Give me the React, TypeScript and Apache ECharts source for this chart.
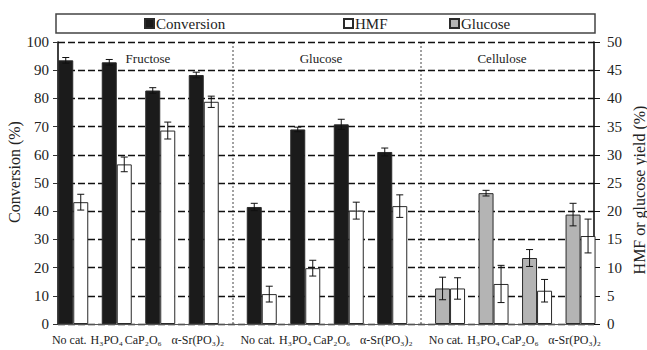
import React, { useEffect, useRef } from "react";
import * as echarts from "echarts";

// ---------- data ----------
const groupTitles = ["Fructose", "Glucose", "Cellulose"];
const catalysts = ["No cat.", "H₃PO₄", "CaP₂O₆", "α-Sr(PO₃)₂"];

// Fructose substrate
const fructoseConversion = [93.5, 92.8, 82.8, 88.3];
const fructoseConversionErr = [1.0, 1.0, 1.0, 1.0];
const fructoseHMF = [21.6, 28.3, 34.3, 39.4];
const fructoseHMFErr = [1.4, 1.3, 1.5, 1.0];

// Glucose substrate
const glucoseConversion = [41.5, 69.0, 70.8, 61.0];
const glucoseConversionErr = [1.3, 0.8, 1.8, 1.4];
const glucoseHMF = [5.3, 9.9, 20.1, 20.9];
const glucoseHMFErr = [1.4, 1.4, 1.5, 2.0];

// Cellulose substrate
const celluloseGlucose = [6.3, 23.2, 11.7, 19.4];
const celluloseGlucoseErr = [2.0, 0.5, 1.5, 2.0];
const celluloseHMF = [6.3, 7.1, 5.9, 15.6];
const celluloseHMFErr = [1.9, 3.3, 2.0, 3.0];

// axis ranges
const leftAxis = { min: 0, max: 100, interval: 10 };
const rightAxis = { min: 0, max: 50, interval: 5 };

// ---------- styles ----------
const FONT = "Liberation Serif";
const TXT = "#222";
const BLACK = "#1b1b1b";
const GRAY = "#b4b4b4";
const BAR_W = 15;

const PLOT_TOP = 42;
const PLOT_H = 282;
const groupLefts = [51.5, 240, 428.3];
const GROUP_W = 174;
const labelShift = [8, 20, 34, 12];

function errorSeries(
  name: string,
  xAxisIndex: number,
  yAxisIndex: number,
  values: number[],
  errs: number[],
  offset: number
) {
  return {
    type: "custom",
    name: name + "-err",
    xAxisIndex,
    yAxisIndex,
    z: 10,
    silent: true,
    encode: { x: 0, y: 1 },
    data: values.map((v, i) => [i, v, errs[i]]),
    renderItem: (params: any, api: any) => {
      const i = api.value(0);
      const v = api.value(1);
      const e = api.value(2);
      const top = api.coord([i, v + e]);
      const bot = api.coord([i, v - e]);
      const x = top[0] + offset;
      const st = { stroke: "#111", lineWidth: 1 };
      return {
        type: "group",
        children: [
          { type: "line", shape: { x1: x, y1: top[1], x2: x, y2: bot[1] }, style: st },
          { type: "line", shape: { x1: x - 3.5, y1: top[1], x2: x + 3.5, y2: top[1] }, style: st },
          { type: "line", shape: { x1: x - 3.5, y1: bot[1], x2: x + 3.5, y2: bot[1] }, style: st },
        ],
      };
    },
  };
}

function barSeries(name: string, xAxisIndex: number, yAxisIndex: number, values: number[], color: string) {
  return {
    type: "bar",
    name,
    xAxisIndex,
    yAxisIndex,
    barWidth: BAR_W,
    barGap: "0%",
    z: 5,
    itemStyle: { color, borderColor: "#2a2a2a", borderWidth: 1 },
    data: values,
  };
}

export default function App() {
  const ref = useRef<HTMLDivElement>(null);

  useEffect(() => {
    if (!ref.current) return;
    const chart = echarts.init(ref.current, undefined, { renderer: "svg" });

    const grids: any[] = [
      { left: 58, top: PLOT_TOP, width: 536, height: PLOT_H },
      ...groupLefts.map((l) => ({ left: l, top: PLOT_TOP, width: GROUP_W, height: PLOT_H })),
    ];

    const catXAxis = (gridIndex: number) => ({
      type: "category",
      gridIndex,
      data: catalysts,
      axisLine: { show: false },
      axisTick: { show: false },
      splitLine: { show: false },
      axisLabel: {
        interval: 0,
        margin: 10,
        color: TXT,
        fontFamily: FONT,
        fontSize: 12,
        formatter: (val: string, idx: number) => `{s${idx}|${val}}`,
        rich: Object.fromEntries(
          labelShift.map((p, i) => [
            `s${i}`,
            { fontFamily: FONT, fontSize: 12, color: TXT, padding: [0, p, 0, 0] },
          ])
        ),
      },
    });

    const hiddenY = (gridIndex: number, r: any) => ({
      type: "value",
      gridIndex,
      show: false,
      min: r.min,
      max: r.max,
      interval: r.interval,
      splitLine: { show: false },
    });

    const option: any = {
      animation: false,
      backgroundColor: "#fff",
      textStyle: { fontFamily: FONT },
      grid: grids,
      legend: [
        { data: ["Conversion"], left: 144 },
        { data: ["HMF"], left: 343 },
        { data: ["Glucose"], left: 449 },
      ].map((l) => ({
        data: l.data,
        left: l.left,
        top: 16,
        padding: 0,
        itemWidth: 9,
        itemHeight: 9,
        itemGap: 2,
        icon: "rect",
        selectedMode: false,
        textStyle: { fontFamily: FONT, fontSize: 15, color: TXT, padding: [0, 0, 0, -3] },
      })),
      xAxis: [
        {
          type: "value",
          gridIndex: 0,
          min: 0,
          max: 1,
          axisLine: { show: true, onZero: false, lineStyle: { color: "#555", width: 1 } },
          axisTick: { show: false },
          axisLabel: { show: false },
          splitLine: { show: false },
        },
        catXAxis(1),
        catXAxis(2),
        catXAxis(3),
      ],
      yAxis: [
        {
          type: "value",
          gridIndex: 0,
          position: "left",
          ...leftAxis,
          axisLine: { show: true, lineStyle: { color: "#111", width: 1.6 } },
          axisTick: { show: true, length: 5, lineStyle: { color: "#333" } },
          axisLabel: { margin: 9, color: TXT, fontFamily: FONT, fontSize: 15 },
          splitLine: { show: true, lineStyle: { color: "#111", width: 1.3, type: [7, 3] } },
        },
        {
          type: "value",
          gridIndex: 0,
          position: "right",
          ...rightAxis,
          axisLine: { show: true, lineStyle: { color: "#111", width: 1.6 } },
          axisTick: { show: true, length: 6, lineStyle: { color: "#111" } },
          axisLabel: { margin: 13, color: TXT, fontFamily: FONT, fontSize: 15 },
          splitLine: { show: false },
        },
        hiddenY(1, leftAxis),
        hiddenY(1, rightAxis),
        hiddenY(2, leftAxis),
        hiddenY(2, rightAxis),
        hiddenY(3, rightAxis),
      ],
      series: [
        barSeries("Conversion", 1, 2, fructoseConversion, BLACK),
        barSeries("HMF", 1, 3, fructoseHMF, "#ffffff"),
        barSeries("Conversion", 2, 4, glucoseConversion, BLACK),
        barSeries("HMF", 2, 5, glucoseHMF, "#ffffff"),
        barSeries("Glucose", 3, 6, celluloseGlucose, GRAY),
        barSeries("HMF", 3, 6, celluloseHMF, "#ffffff"),
        errorSeries("fc", 1, 2, fructoseConversion, fructoseConversionErr, -BAR_W / 2),
        errorSeries("fh", 1, 3, fructoseHMF, fructoseHMFErr, BAR_W / 2),
        errorSeries("gc", 2, 4, glucoseConversion, glucoseConversionErr, -BAR_W / 2),
        errorSeries("gh", 2, 5, glucoseHMF, glucoseHMFErr, BAR_W / 2),
        errorSeries("cg", 3, 6, celluloseGlucose, celluloseGlucoseErr, -BAR_W / 2),
        errorSeries("ch", 3, 6, celluloseHMF, celluloseHMFErr, BAR_W / 2),
      ],
      graphic: [
        {
          type: "rect",
          shape: { x: 56, y: 14, width: 539, height: 19 },
          style: { fill: "none", stroke: "#444", lineWidth: 1.5 },
          silent: true,
        },
        ...[233, 421].map((x) => ({
          type: "line",
          shape: { x1: x, y1: PLOT_TOP, x2: x, y2: PLOT_TOP + PLOT_H },
          style: { stroke: "#444", lineWidth: 1, lineDash: [2, 2] },
          silent: true,
        })),
        ...groupTitles.map((t, i) => ({
          type: "text",
          x: [148, 321, 502][i],
          y: 58,
          style: {
            text: t,
            fontFamily: FONT,
            fontSize: 13,
            fill: TXT,
            textAlign: "center",
            textVerticalAlign: "middle",
          },
          silent: true,
        })),
        {
          type: "text",
          x: 14,
          y: 172,
          rotation: Math.PI / 2,
          style: {
            text: "Conversion (%)",
            fontFamily: FONT,
            fontSize: 16,
            fill: TXT,
            textAlign: "center",
            textVerticalAlign: "middle",
          },
          silent: true,
        },
        {
          type: "text",
          x: 639,
          y: 190,
          rotation: Math.PI / 2,
          style: {
            text: "HMF or glucose yield (%)",
            fontFamily: FONT,
            fontSize: 16,
            fill: TXT,
            textAlign: "center",
            textVerticalAlign: "middle",
          },
          silent: true,
        },
      ],
    };

    chart.setOption(option);
    return () => chart.dispose();
  }, []);

  return (
    <div
      ref={ref}
      style={{ position: "fixed", left: 0, top: 0, width: 647, height: 350, background: "#fff" }}
    />
  );
}
